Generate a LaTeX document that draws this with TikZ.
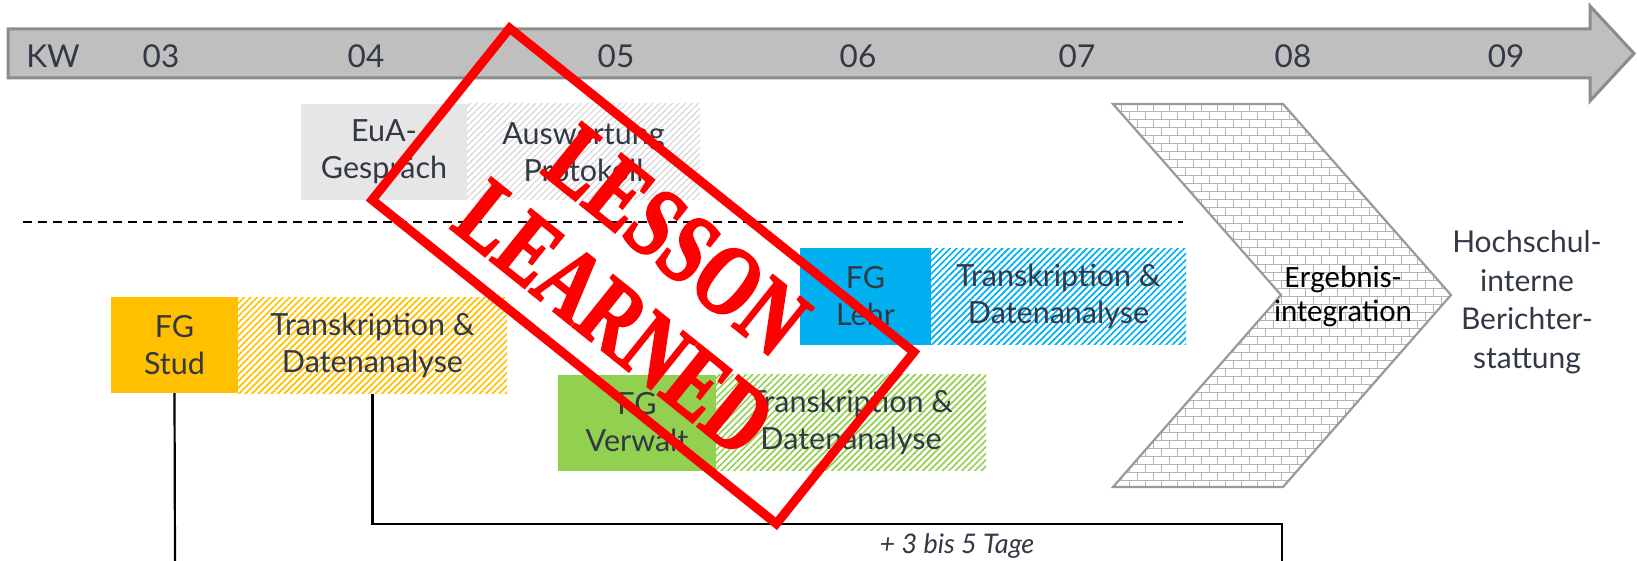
\documentclass[tikz,border=0pt]{standalone}
\usepackage{fontspec}
\setmainfont{Lato}
\newfontfamily\calfont{Carlito}
\newfontfamily\stampfont[FakeStretch=0.76,FakeBold=2]{Liberation Serif}
\usetikzlibrary{patterns.meta}

\definecolor{ink}{HTML}{333845}
\definecolor{barfill}{HTML}{BFBFBF}
\definecolor{barline}{HTML}{8C8C8C}
\definecolor{studc}{HTML}{FFC000}
\definecolor{lehrc}{HTML}{00B0F0}
\definecolor{verwc}{HTML}{92D050}
\definecolor{euac}{HTML}{E6E6E6}
\definecolor{hatchgray}{HTML}{D6D6D6}
\definecolor{brickc}{HTML}{B4B4B4}
\definecolor{chevline}{HTML}{9A9A9A}
\definecolor{stampred}{HTML}{FF0000}

\tikzset{
  txt/.style={font=\fontsize{30.5}{37}\selectfont, text=ink, align=center, inner sep=0pt},
  weeklabel/.style={font=\fontsize{31.5}{34}\selectfont, text=ink, anchor=base, inner sep=0pt},
  solidbox/.style={txt, fill=#1, minimum height=96pt},
  hatchbox/.style={txt, minimum height=96pt,
    pattern={Lines[angle=45,distance=4.6pt,line width=1.7pt]}, pattern color=#1},
  link/.style={draw=black, line width=2.2pt},
}

\begin{document}
\begin{tikzpicture}[x=1pt,y=-1pt]
\useasboundingbox (0,0) rectangle (1637,561);

% week axis
\draw[fill=barfill, draw=barline, line width=3pt, line join=miter]
  (8,29) -- (1590,29) -- (1590,6) -- (1634,53.5) -- (1590,101) -- (1590,78) -- (8,78) -- cycle;
\node[weeklabel] (kw) at (53,68) {KW};
\node[weeklabel] (w03) at (161,68) {03};
\node[weeklabel] (w04) at (366,68) {04};
\node[weeklabel] (w05) at (616,68) {05};
\node[weeklabel] (w06) at (858,68) {06};
\node[weeklabel] (w07) at (1077,68) {07};
\node[weeklabel] (w08) at (1293,68) {08};
\node[weeklabel] (w09) at (1506,68) {09};

% top row
\node[solidbox=euac, minimum width=166pt] (eua) at (384,152) {EuA-\\Gespräch};
\node[txt, minimum width=233pt, minimum height=96pt,
  pattern={Lines[angle=45,distance=4.6pt,line width=1.2pt]}, pattern color=hatchgray]
  (ausw) at (583.5,152) {Auswertung\\Protokoll};

% separator
\draw[black, line width=2pt, dash pattern=on 9pt off 6pt] (23,222) -- (1183,222);

% focus groups
\node[solidbox=studc, minimum width=127pt] (stud) at (174.5,345) {FG\\Stud};
\node[hatchbox=studc, minimum width=269pt] (studT) at (372.5,345) {Transkription \&\\Datenanalyse};

\node[solidbox=lehrc, minimum width=131pt] (lehr) at (865.5,296.5) {FG\\Lehr};
\node[hatchbox=lehrc, minimum width=255pt] (lehrT) at (1058.5,296.5) {Transkription \&\\Datenanalyse};

\node[solidbox=verwc, minimum width=158pt] (verw) at (637,422.5) {FG\\Verwalt};
\node[hatchbox=verwc, minimum width=270pt] (verwT) at (851,422.5) {Transkription \&\\Datenanalyse};

% integration chevron with brick texture
\begin{scope}
  \clip (1113,104) -- (1283,104) -- (1451,295) -- (1283,487) -- (1113,487) -- (1281,295) -- cycle;
  \foreach \r in {0,...,48} {
    \pgfmathsetmacro{\yy}{104+8*\r}
    \pgfmathsetmacro{\xo}{1105+8*mod(\r,2)}
    \draw[brickc, line width=1pt] (1100,\yy) -- (1460,\yy);
    \foreach \k in {0,...,22} {
      \draw[brickc, line width=1pt] (\xo+16*\k,\yy) -- (\xo+16*\k,\yy+8);
    }
  }
\end{scope}
\draw[chevline, line width=2.2pt, line join=miter]
  (1113,104) -- (1283,104) -- (1451,295) -- (1283,487) -- (1113,487) -- (1281,295) -- cycle;
\node[font=\calfont\fontsize{31}{34}\selectfont, text=black, align=center, inner sep=0pt]
  (integ) at (1343,296) {Ergebnis-\\integration};

\node[txt, font=\fontsize{30}{38.5}\selectfont] (bericht) at (1527,302) {Hochschul-\\interne\\Berichter-\\stattung};

% timing connectors
\coordinate (endA) at (175,561);
\coordinate (endB) at (1282,561);
\draw[link] (stud.south) -- (endA);
\draw[link] (studT.south) -- ++(0,130) -| (endB);
\node[font=\itshape\fontsize{27}{30}\selectfont, text=ink, inner sep=0pt] (delay) at (957,546) {+ 3 bis 5 Tage};

% stamp
\node[draw=stampred, line width=9pt, line join=miter, minimum width=518pt, minimum height=220pt,
  rotate=-38.7, inner sep=0pt] (stamp) at (643,276) {};
\node[rotate=-38.7, text=stampred, font=\stampfont\bfseries\fontsize{100}{100}\selectfont,
  align=center, inner sep=0pt] (lesson) at (646,279) {LESSON\\LEARNED};
\end{tikzpicture}
\end{document}
